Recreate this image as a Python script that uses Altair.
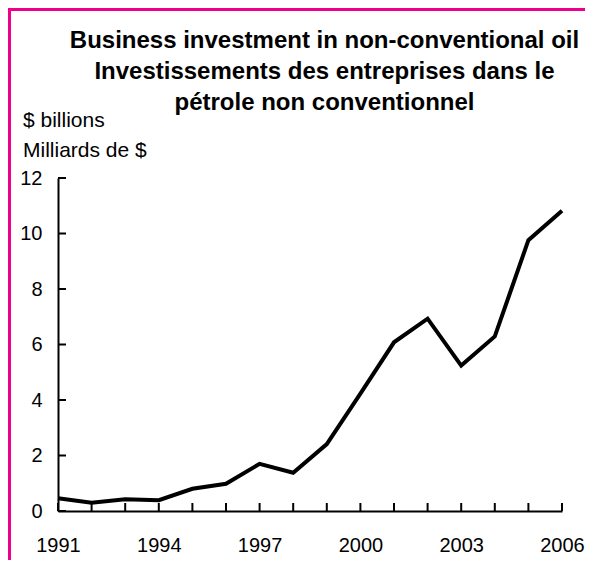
import altair as alt
import pandas as pd

# ---- data ----
years = list(range(1991, 2007))
investment = [0.46, 0.30, 0.42, 0.39, 0.80, 0.98, 1.70, 1.38, 2.41, 4.23,
              6.08, 6.93, 5.24, 6.29, 9.76, 10.82]
y_ticks = [0, 2, 4, 6, 8, 10, 12]
x_labels = [1991, 1994, 1997, 2000, 2003, 2006]
title_lines = ["Business investment in non-conventional oil",
               "Investissements des entreprises dans le",
               "pétrole non conventionnel"]
unit_lines = ["$ billions", "Milliards de $"]

FONT = "Liberation Sans"
PINK = "#EC008C"
W, H = 504, 333
PAD = {"left": 50, "top": 170, "right": 23, "bottom": 49}

df = pd.DataFrame({"year": years, "value": investment})
ticks_df = pd.DataFrame({"tick": y_ticks})
one = pd.DataFrame({"k": [0]})

xscale = alt.Scale(domain=[1991, 2006], nice=False, zero=False)
yscale = alt.Scale(domain=[0, 12], nice=False)

x_enc = alt.X("year:Q", scale=xscale,
              axis=alt.Axis(values=x_labels, format="d", ticks=False, grid=False,
                            labelPadding=24, labelFontSize=20, labelFont=FONT,
                            labelColor="black", labelFlush=False,
                            domainColor="black", domainWidth=2, title=None))
y_enc = alt.Y("value:Q", scale=yscale,
              axis=alt.Axis(values=y_ticks, ticks=False, grid=False,
                            labelPadding=16, labelFontSize=20, labelFont=FONT,
                            labelColor="black", domainColor="black",
                            domainWidth=2, title=None))

line = alt.Chart(df).mark_line(color="black", strokeWidth=4,
                               strokeJoin="miter").encode(x=x_enc, y=y_enc)

xticks = alt.Chart(df).mark_rule(color="black", strokeWidth=2).encode(
    x=alt.X("year:Q", scale=xscale),
    y=alt.value(H), y2=alt.value(H - 8))

yticks = alt.Chart(ticks_df).mark_rule(color="black", strokeWidth=2).encode(
    y=alt.Y("tick:Q", scale=yscale),
    x=alt.value(0), x2=alt.value(8))

title = alt.Chart(one).mark_text(
    text=title_lines, align="center", baseline="alphabetic", fontSize=24,
    fontWeight="bold", font=FONT, color="black", lineHeight=31).encode(
    x=alt.value(266.5), y=alt.value(-130))

units = alt.Chart(one).mark_text(
    text=unit_lines, align="left", baseline="alphabetic", fontSize=21,
    font=FONT, color="black", lineHeight=30).encode(
    x=alt.value(-35), y=alt.value(-51))

border_left = alt.Chart(one).mark_rule(color=PINK, strokeWidth=3).encode(
    x=alt.value(-48.5), y=alt.value(-170), y2=alt.value(H + 49))
border_top = alt.Chart(one).mark_rule(color=PINK, strokeWidth=3).encode(
    y=alt.value(-168.5), x=alt.value(-50), x2=alt.value(W + 23))

chart = alt.layer(line, xticks, yticks, title, units, border_left, border_top).properties(
    width=W, height=H,
    padding=PAD,
    background="white",
    autosize=alt.AutoSizeParams(type="none"),
).configure_view(stroke="transparent", strokeWidth=0)

chart.save("out.html", embed_options={"renderer": "svg", "actions": False})
